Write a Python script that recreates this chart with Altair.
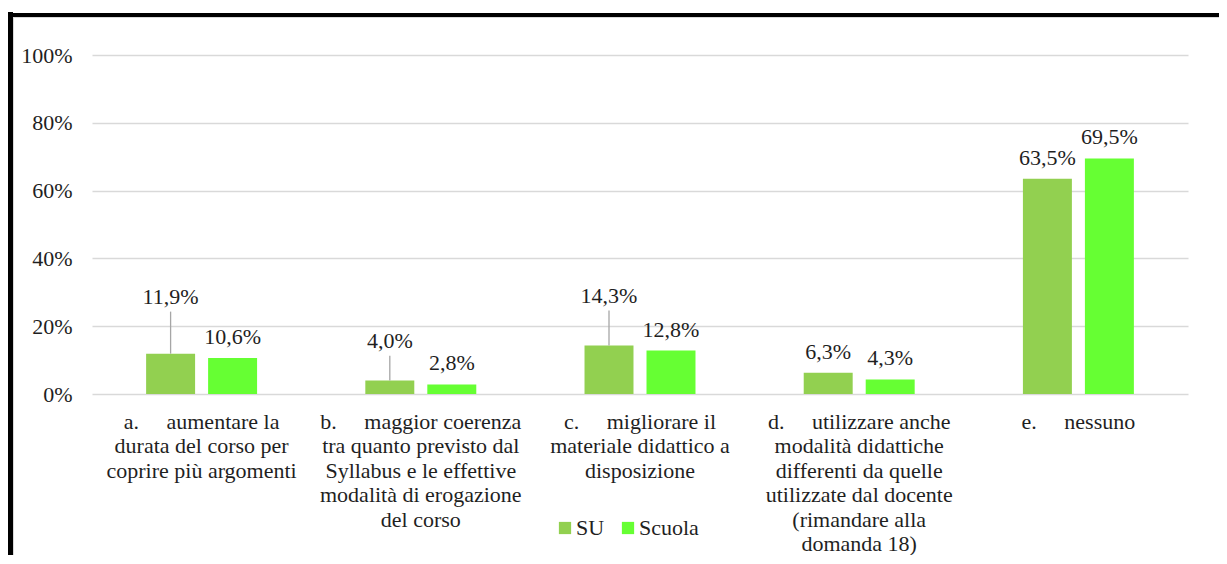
import altair as alt
import pandas as pd

# ---- data ----
NB = "\u00a0" * 5
categories = [
    "a." + NB + "aumentare la|durata del corso per|coprire più argomenti",
    "b." + NB + "maggior coerenza|tra quanto previsto dal|Syllabus e le effettive|modalità di erogazione|del corso",
    "c." + NB + "migliorare il|materiale didattico a|disposizione",
    "d." + NB + "utilizzare anche|modalità didattiche|differenti da quelle|utilizzate dal docente|(rimandare alla|domanda 18)",
    "e." + NB + "nessuno",
]
series = ["SU", "Scuola"]
su_values = [11.9, 4.0, 14.3, 6.3, 63.5]
scuola_values = [10.6, 2.8, 12.8, 4.3, 69.5]
y_ticks = [0, 20, 40, 60, 80, 100]

# manual data-label placement used in the source (percentage points above bar)
DEFAULT_LIFT = 6.2
LABEL_LIFT = {(0, "SU"): 16.7, (1, "SU"): 11.6, (2, "SU"): 14.6}
LEADER_GAP = 4.3

colors = ["#92D050", "#66FF33"]
FONT = "Liberation Serif"
TXT = "#1f1f1f"

rows = []
for i, c in enumerate(categories):
    for s, vals in (("SU", su_values), ("Scuola", scuola_values)):
        v = vals[i]
        lift = LABEL_LIFT.get((i, s), DEFAULT_LIFT)
        rows.append({
            "cat": c, "series": s, "value": v,
            "label_pos": v + lift,
            "leader_top": (v + lift - LEADER_GAP) if (i, s) in LABEL_LIFT else None,
        })
df = pd.DataFrame(rows)

W, H = 1096, 339

x_enc = alt.X("cat:N", sort=categories, title=None,
              scale=alt.Scale(paddingInner=0, paddingOuter=0),
              axis=alt.Axis(labelExpr="split(datum.label, '|')", labelAngle=0,
                            ticks=False, domain=False, grid=False,
                            labelPadding=17, labelLimit=400,
                            labelLineHeight=24.5, labelBaseline="top"))
xoff = alt.XOffset("series:N", sort=series,
                   scale=alt.Scale(paddingInner=0.21, paddingOuter=0.873))
y_scale = alt.Scale(domain=[0, 100], nice=False)

base = alt.Chart(df)

bars = base.mark_bar().encode(
    x=x_enc,
    xOffset=xoff,
    y=alt.Y("value:Q", scale=y_scale, title=None,
            axis=alt.Axis(values=y_ticks, labelExpr="datum.value + '%'",
                          ticks=False, domain=False, grid=True,
                          gridColor="#D9D9D9", gridWidth=1.3,
                          labelPadding=20)),
    color=alt.Color("series:N", sort=series,
                    scale=alt.Scale(domain=series, range=colors),
                    legend=alt.Legend(title=None, orient="none",
                                      direction="horizontal",
                                      legendX=462, legendY=462,
                                      symbolType="square", symbolSize=150,
                                      symbolStrokeWidth=0, symbolOpacity=1,
                                      labelFont=FONT, labelFontSize=22,
                                      labelColor=TXT, labelOffset=0,
                                      columnPadding=12)),
)

leaders = base.transform_filter("isValid(datum.leader_top)").mark_rule(
    color="#A6A6A6", strokeWidth=1.3
).encode(
    x=alt.X("cat:N", sort=categories),
    xOffset=xoff,
    y=alt.Y("value:Q", scale=y_scale),
    y2="leader_top:Q",
)

labels = base.transform_calculate(
    txt="replace(format(datum.value, '.1f'), '.', ',') + '%'"
).mark_text(font=FONT, fontSize=22, color=TXT, baseline="middle").encode(
    x=alt.X("cat:N", sort=categories),
    xOffset=xoff,
    y=alt.Y("label_pos:Q", scale=y_scale),
    text="txt:N",
)

frame_data = alt.Data(values=[{"k": 1}])
frame_left = alt.Chart(frame_data).mark_rule(color="black", strokeWidth=5).encode(
    x=alt.value(-81.5), y=alt.value(-43), y2=alt.value(520))
frame_top = alt.Chart(frame_data).mark_rule(color="black", strokeWidth=4).encode(
    x=alt.value(-84), x2=alt.value(1140), y=alt.value(-40))
frame_in_left = alt.Chart(frame_data).mark_rule(color="#D9D9D9", strokeWidth=1).encode(
    x=alt.value(-78.5), y=alt.value(-38), y2=alt.value(520))
frame_in_top = alt.Chart(frame_data).mark_rule(color="#D9D9D9", strokeWidth=1).encode(
    x=alt.value(-79), x2=alt.value(1140), y=alt.value(-37.5))

chart = alt.layer(
    bars, leaders, labels, frame_left, frame_top, frame_in_left, frame_in_top
).properties(
    width=W, height=H,
    padding={"left": 84, "top": 47, "right": 31, "bottom": 161},
    autosize="none",
    background="white",
).configure_view(stroke=None).configure_axis(
    labelFont=FONT, labelFontSize=22, labelColor=TXT
)

chart.save("out.html", embed_options={"renderer": "svg", "actions": False})
